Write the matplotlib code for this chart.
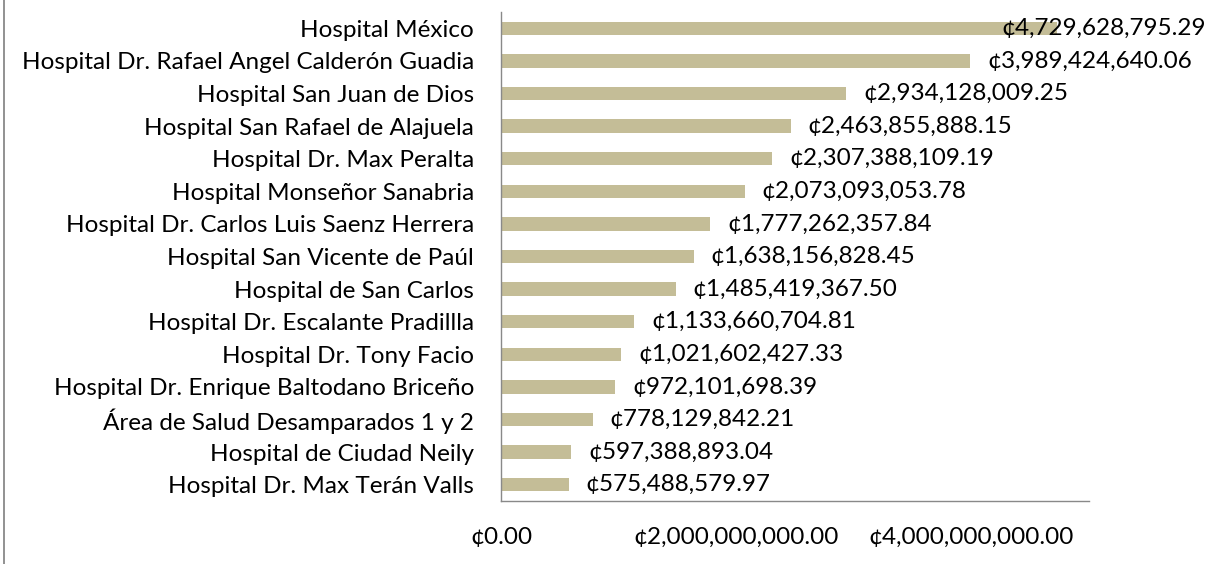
import matplotlib
matplotlib.use("Agg")
import matplotlib.pyplot as plt
from matplotlib.lines import Line2D

categories = [
    "Hospital México",
    "Hospital Dr. Rafael Angel Calderón Guadia",
    "Hospital San Juan de Dios",
    "Hospital San Rafael de Alajuela",
    "Hospital Dr. Max Peralta",
    "Hospital Monseñor Sanabria",
    "Hospital Dr. Carlos Luis Saenz Herrera",
    "Hospital San Vicente de Paúl",
    "Hospital de San Carlos",
    "Hospital Dr. Escalante Pradillla",
    "Hospital Dr. Tony Facio",
    "Hospital Dr. Enrique Baltodano Briceño",
    "Área de Salud Desamparados 1 y 2",
    "Hospital de Ciudad Neily",
    "Hospital Dr. Max Terán Valls",
]
values = [
    4729628795.29, 3989424640.06, 2934128009.25, 2463855888.15,
    2307388109.19, 2073093053.78, 1777262357.84, 1638156828.45,
    1485419367.50, 1133660704.81, 1021602427.33, 972101698.39,
    778129842.21, 597388893.04, 575488579.97,
]
xticks = [0, 2e9, 4e9]

W, H = 1214, 564
FONT = "Lato"
FS = 17.5
bar_color = "#C4BD97"
axis_color = "#898989"

fig = plt.figure(figsize=(W / 100, H / 100), dpi=100)
ax = fig.add_axes([501 / W, 1 - 501 / H, (1089 - 501) / W, (501 - 12) / H])

n = len(categories)
ypos = list(range(n))
ax.barh(ypos, values, height=0.41, color=bar_color)
ax.set_ylim(n - 0.5, -0.5)
ax.set_xlim(0, 5e9)

ax.set_yticks(ypos)
ax.set_yticklabels(categories, fontsize=FS, family=FONT)
ax.set_xticks(xticks)
ax.set_xticklabels(["¢{:,.2f}".format(v) for v in xticks], fontsize=FS, family=FONT)
ax.tick_params(axis="y", length=0, pad=19.5)
ax.tick_params(axis="x", length=0, pad=18.5)

for s in ["top", "right"]:
    ax.spines[s].set_visible(False)
for s in ["left", "bottom"]:
    ax.spines[s].set_color(axis_color)
    ax.spines[s].set_linewidth(1.0)

fig.canvas.draw()
renderer = fig.canvas.get_renderer()
for y, v in zip(ypos, values):
    t = ax.annotate("¢{:,.2f}".format(v), xy=(v, y), xytext=(17, 0),
                    textcoords="offset pixels", ha="left", va="center",
                    fontsize=FS, family=FONT, color="black")
    bb = t.get_window_extent(renderer)
    if bb.x1 > W - 8:
        shift = bb.x1 - (W - 8)
        t.xyann = (17 - shift, 0)

fig.add_artist(Line2D([4 / W, 4 / W], [0, 1], transform=fig.transFigure,
                      color=axis_color, lw=1.3))

fig.savefig("out.png", dpi=100)
